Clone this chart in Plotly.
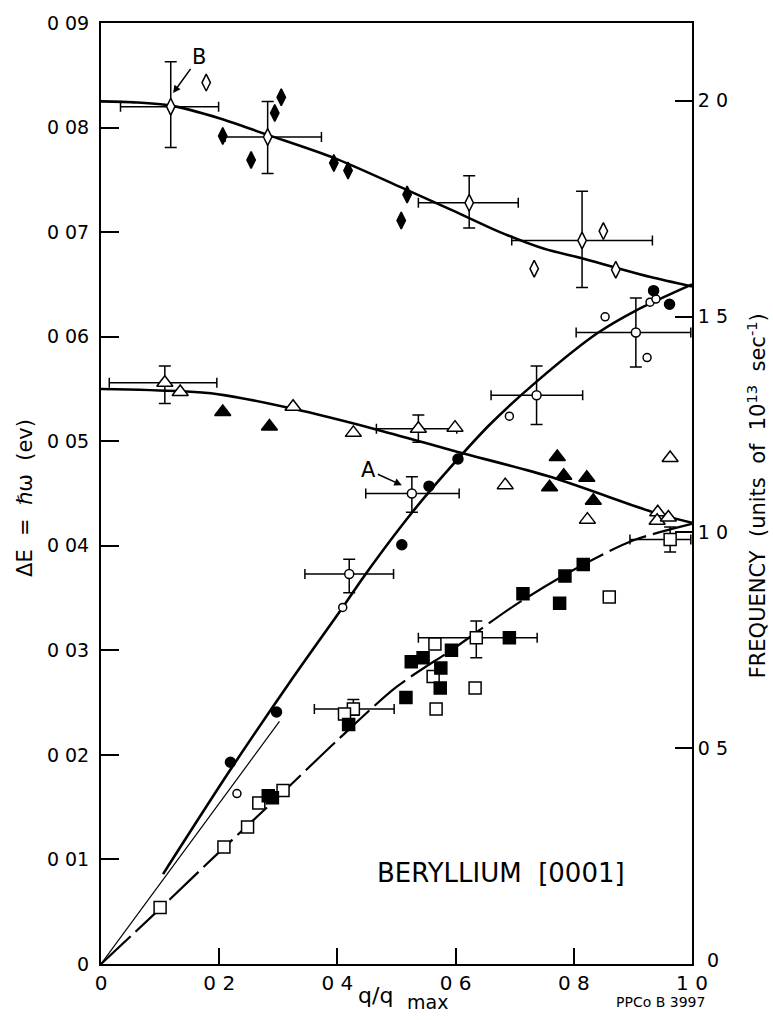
import plotly.graph_objects as go

# ---------------- data ----------------
# Curves (hand-drawn dispersion curves)
lo_curve_q = [0, 0.06, 0.118, 0.2, 0.282, 0.394, 0.507, 0.59, 0.675, 0.75, 0.814, 0.871, 0.93, 1.0]
lo_curve_e = [0.0825, 0.0824, 0.0821, 0.0809, 0.0793, 0.0771, 0.0743, 0.0722, 0.0700, 0.0684, 0.0675, 0.0666, 0.0657, 0.0648]

mid_curve_q = [0, 0.13, 0.198, 0.325, 0.461, 0.602, 0.76, 0.94, 1.0]
mid_curve_e = [0.0550, 0.0548, 0.0545, 0.0531, 0.0512, 0.0490, 0.0466, 0.0431, 0.0422]

la_curve_q = [0.105, 0.218, 0.32, 0.41, 0.444, 0.528, 0.607, 0.658, 0.737, 0.839, 0.905, 1.0]
la_curve_e = [0.0086, 0.0185, 0.0270, 0.0342, 0.0370, 0.0433, 0.0485, 0.0516, 0.0557, 0.0603, 0.0625, 0.0650]

la_line_q = [0, 0.302]
la_line_e = [0, 0.0232]

ta_curve_q = [0, 0.1, 0.2, 0.3, 0.4, 0.5, 0.6, 0.7, 0.8, 0.9, 1.0]
ta_curve_e = [0, 0.0053, 0.0107, 0.0160, 0.0214, 0.0265, 0.0303, 0.0343, 0.0377, 0.0405, 0.0421]

# Open diamonds (no error bars)
od_q = [0.178, 0.733, 0.850, 0.871]
od_e = [0.0843, 0.0665, 0.0701, 0.0664]
# Open diamonds with error bars
odE_q = [0.118, 0.282, 0.623, 0.814]
odE_e = [0.0820, 0.0791, 0.0728, 0.0692]
odE_qlo = [0.033, 0.210, 0.537, 0.695]
odE_qhi = [0.199, 0.373, 0.706, 0.933]
odE_elo = [0.0781, 0.0756, 0.0704, 0.0647]
odE_ehi = [0.0863, 0.0825, 0.0754, 0.0739]
# Filled diamonds
fd_q = [0.206, 0.254, 0.294, 0.305, 0.394, 0.418, 0.518, 0.508]
fd_e = [0.0792, 0.0769, 0.0814, 0.0829, 0.0766, 0.0759, 0.0736, 0.0711]

# Open triangles
ot_q = [0.134, 0.325, 0.427, 0.599, 0.684, 0.823, 0.963, 0.942, 0.941, 0.960]
ot_e = [0.0547, 0.0533, 0.0508, 0.0513, 0.0458, 0.0425, 0.0484, 0.0432, 0.0424, 0.0427]
otE_q = [0.108, 0.537]
otE_e = [0.0556, 0.0512]
otE_qlo = [0.014, 0.466]
otE_qhi = [0.196, 0.602]
otE_elo = [0.0536, 0.0499]
otE_ehi = [0.0572, 0.0525]
# Filled triangles
ft_q = [0.206, 0.285, 0.772, 0.783, 0.759, 0.822, 0.833]
ft_e = [0.0528, 0.0514, 0.0485, 0.0467, 0.0456, 0.0465, 0.0443]

# Open circles
oc_q = [0.230, 0.409, 0.691, 0.853, 0.924, 0.929, 0.939]
oc_e = [0.0163, 0.0341, 0.0524, 0.0619, 0.0580, 0.0633, 0.0636]
ocE_q = [0.420, 0.526, 0.737, 0.905]
ocE_e = [0.0373, 0.0450, 0.0544, 0.0604]
ocE_qlo = [0.345, 0.448, 0.660, 0.804]
ocE_qhi = [0.495, 0.606, 0.815, 0.998]
ocE_elo = [0.0355, 0.0432, 0.0516, 0.0571]
ocE_ehi = [0.0387, 0.0466, 0.0572, 0.0637]
# Filled circles
fc_q = [0.219, 0.297, 0.509, 0.555, 0.604, 0.935, 0.962]
fc_e = [0.0193, 0.0241, 0.0401, 0.0457, 0.0483, 0.0644, 0.0631]

# Open squares
os_q = [0.100, 0.208, 0.248, 0.267, 0.308, 0.412, 0.562, 0.567, 0.565, 0.633, 0.860]
os_e = [0.0054, 0.0112, 0.0131, 0.0154, 0.0166, 0.0239, 0.0275, 0.0244, 0.0306, 0.0264, 0.0351]
osE_q = [0.427, 0.635, 0.963]
osE_e = [0.0244, 0.0312, 0.0406]
osE_qlo = [0.361, 0.537, 0.895]
osE_qhi = [0.496, 0.738, 0.998]
osE_elo = [0.0238, 0.0293, 0.0394]
osE_ehi = [0.0253, 0.0328, 0.0418]
# Filled squares
fs_q = [0.290, 0.283, 0.419, 0.516, 0.525, 0.545, 0.575, 0.574, 0.593, 0.691, 0.714, 0.776, 0.785, 0.816]
fs_e = [0.0159, 0.0161, 0.0229, 0.0255, 0.0289, 0.0293, 0.0283, 0.0264, 0.0300, 0.0312, 0.0354, 0.0345, 0.0371, 0.0382]

# Axis ticks
x_tickvals = [0, 0.2, 0.4, 0.6, 0.8, 1.0]
x_ticktext = ["0", "0 2", "0 4", "0 6", "0 8", "1 0"]
y_tickvals = [0, 0.01, 0.02, 0.03, 0.04, 0.05, 0.06, 0.07, 0.08, 0.09]
y_ticktext = ["0", "0 01", "0 02", "0 03", "0 04", "0 05", "0 06", "0 07", "0 08", "0 09"]
f_tickvals = [0, 0.5, 1.0, 1.5, 2.0]
f_ticktext = ["", "0 5", "1 0", "1 5", "2 0"]
f_zero_label = "0"
FREQ_MAX = 2.18  # right axis top (units of 10^13 sec^-1)

FONT = "DejaVu Sans"
BLACK = "black"

fig = go.Figure()

# ---------------- curves ----------------
def curve(q, e, width, dash="solid"):
    fig.add_trace(go.Scatter(x=q, y=e, mode="lines",
                             line=dict(color=BLACK, width=width, dash=dash, shape="spline", smoothing=0.8),
                             hoverinfo="skip", showlegend=False))

curve(lo_curve_q, lo_curve_e, 2.6)
curve(mid_curve_q, mid_curve_e, 2.6)
curve(la_line_q, la_line_e, 1.2)
curve(la_curve_q, la_curve_e, 2.6)
curve(ta_curve_q, ta_curve_e, 2.2, dash="40px,7px")

# ---------------- markers ----------------
def pts(q, e, symbol, size, filled, qlo=None, qhi=None, elo=None, ehi=None):
    kw = {}
    if qlo is not None:
        kw["error_x"] = dict(type="data", symmetric=False,
                             array=[h - c for h, c in zip(qhi, q)],
                             arrayminus=[c - l for l, c in zip(qlo, q)],
                             color=BLACK, thickness=1.5, width=5)
        kw["error_y"] = dict(type="data", symmetric=False,
                             array=[h - c for h, c in zip(ehi, e)],
                             arrayminus=[c - l for l, c in zip(elo, e)],
                             color=BLACK, thickness=1.5, width=6)
    fig.add_trace(go.Scatter(x=q, y=e, mode="markers",
                             marker=dict(symbol=symbol, size=size,
                                         color=BLACK if filled else "white",
                                         line=dict(color=BLACK, width=1.5)),
                             hoverinfo="skip", showlegend=False, **kw))

pts(odE_q, odE_e, "diamond-tall", 12, False, odE_qlo, odE_qhi, odE_elo, odE_ehi)
pts(od_q, od_e, "diamond-tall", 12, False)
pts(fd_q, fd_e, "diamond-tall", 12, True)

pts(otE_q, otE_e, "triangle-up", 14, False, otE_qlo, otE_qhi, otE_elo, otE_ehi)
pts(ot_q, ot_e, "triangle-up", 14, False)
pts(ft_q, ft_e, "triangle-up", 14, True)

pts(ocE_q, ocE_e, "circle", 9, False, ocE_qlo, ocE_qhi, ocE_elo, ocE_ehi)
pts(oc_q, oc_e, "circle", 8, False)
pts(fc_q, fc_e, "circle", 10, True)

pts(osE_q, osE_e, "square", 12, False, osE_qlo, osE_qhi, osE_elo, osE_ehi)
pts(os_q, os_e, "square", 12, False)
pts(fs_q, fs_e, "square", 12, True)

# invisible trace so that the right-hand frequency axis is drawn
fig.add_trace(go.Scatter(x=[None], y=[None], yaxis="y2", mode="markers",
                         hoverinfo="skip", showlegend=False))

# ---------------- layout ----------------
fig.update_layout(
    width=773, height=1020,
    margin=dict(l=101, r=81, t=20, b=56, pad=0),
    paper_bgcolor="white", plot_bgcolor="white",
    font=dict(family=FONT, color=BLACK),
    showlegend=False,
    xaxis=dict(range=[0, 1.0], tickvals=x_tickvals, ticktext=x_ticktext,
               ticks="inside", ticklen=16, tickwidth=1.5, tickcolor=BLACK,
               showline=True, linecolor=BLACK, linewidth=2, mirror=True,
               showgrid=False, zeroline=False,
               tickfont=dict(family=FONT, size=20, color=BLACK)),
    yaxis=dict(range=[0, 0.09], tickvals=y_tickvals, ticktext=y_ticktext,
               ticks="inside", ticklen=18, tickwidth=1.5, tickcolor=BLACK,
               showline=True, linecolor=BLACK, linewidth=2,
               showgrid=False, zeroline=False, ticklabelstandoff=6,
               tickfont=dict(family=FONT, size=19, color=BLACK)),
    yaxis2=dict(range=[0, FREQ_MAX], overlaying="y", side="right",
                tickvals=f_tickvals, ticktext=f_ticktext,
                ticks="inside", ticklen=17, tickwidth=1.5, tickcolor=BLACK,
                showline=True, linecolor=BLACK, linewidth=2,
                showgrid=False, zeroline=False,
                tickfont=dict(family=FONT, size=19, color=BLACK)),
)

ann = [
    # left axis title
    dict(text="ΔE  =  ℏω  (ev)", xref="paper", yref="paper", x=-0.129, y=0.495,
         textangle=-90, showarrow=False, font=dict(size=21, family=FONT),
         xanchor="center", yanchor="middle"),
    # right axis title
    dict(text="FREQUENCY  (units  of  10<sup>13</sup>  sec<sup>-1</sup>)", xref="paper", yref="paper",
         x=1.110, y=0.497, textangle=-90, showarrow=False, font=dict(size=21, family=FONT),
         xanchor="center", yanchor="middle"),
    # right axis zero label (sits up and to the right of the corner)
    dict(text=f_zero_label, xref="paper", yref="paper", x=1.036, y=0.004, showarrow=False,
         font=dict(size=19, family=FONT), xanchor="center", yanchor="middle"),
    # x axis title
    dict(text="q/q", xref="paper", yref="paper", x=0.465, y=-0.034, showarrow=False,
         font=dict(size=22, family=FONT), xanchor="center", yanchor="middle"),
    dict(text="max", xref="paper", yref="paper", x=0.553, y=-0.040, showarrow=False,
         font=dict(size=19, family=FONT), xanchor="center", yanchor="middle"),
    dict(text="PPCo B 3997", xref="paper", yref="paper", x=0.947, y=-0.040, showarrow=False,
         font=dict(size=14, family=FONT), xanchor="center", yanchor="middle"),
    # in-plot label
    dict(text="BERYLLIUM  [0001]", x=0.677, y=0.0087, xref="x", yref="y", showarrow=False,
         font=dict(size=26, family=FONT), xanchor="center", yanchor="middle"),
    # point labels with arrows
    dict(text="B", x=0.122, y=0.0833, xref="x", yref="y", ax=26, ay=-36,
         showarrow=True, arrowhead=2, arrowsize=1, arrowwidth=1.5, arrowcolor=BLACK,
         font=dict(size=21, family=FONT)),
    dict(text="A", x=0.509, y=0.0458, xref="x", yref="y", ax=-33, ay=-15,
         showarrow=True, arrowhead=2, arrowsize=1, arrowwidth=1.5, arrowcolor=BLACK,
         font=dict(size=21, family=FONT)),
]
fig.update_layout(annotations=ann)

fig.write_html("out.html")
